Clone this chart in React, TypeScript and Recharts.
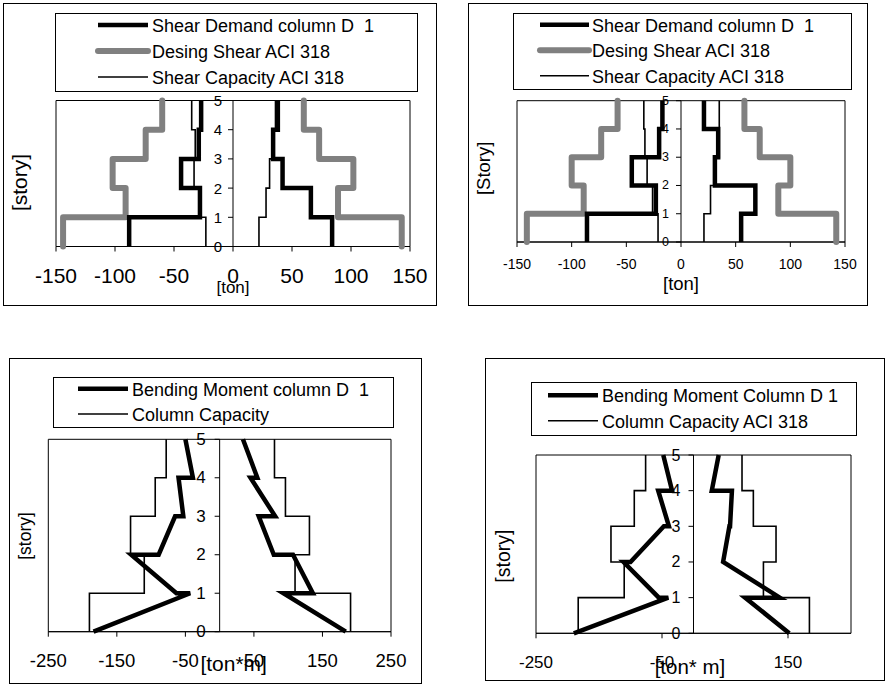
import React from 'react';
import {
  Label,
  ReferenceArea,
  ReferenceDot,
  ReferenceLine,
  Scatter,
  ScatterChart,
  XAxis,
  YAxis,
} from 'recharts';

// Story levels (0 = base, 5 = roof)
const STORIES = [0, 1, 2, 3, 4, 5];

// Top-left: shear per storey [ton], one value per storey 0-1 .. 4-5
const tlDemandNeg = [-88, -28, -44, -29, -27];
const tlDemandPos = [84, 66, 42, 34, 38];
const tlDesignNeg = [-144, -91, -102, -74, -60];
const tlDesignPos = [143, 89, 102, 73, 60];
const tlCapNeg = [-23, -28, -33, -32, -35];
const tlCapPos = [22, 28, 31, 34, 36];

// Top-right: shear per storey [ton]
const trDemandNeg = [-86, -23, -45, -20, -17];
const trDemandPos = [55, 68, 31, 34, 21];
const trDesignNeg = [-141, -89, -100, -73, -58];
const trDesignPos = [142, 89, 100, 72, 58];
const trCapNeg = [-21, -26, -31, -33, -34];
const trCapPos = [21, 27, 30, 35, 35];

// Bottom-left: moment at bottom / top of each storey column [ton*m]
const blMomentNegBot = [-184, -63, -89, -53, -39];
const blMomentNegTop = [-43, -129, -65, -60, -50];
const blMomentPosBot = [184, 136, 79, 81, 55];
const blMomentPosTop = [93, 107, 57, 45, 34];
const blCapNeg = [-190, -110, -130, -94, -78];
const blCapPos = [191, 110, 131, 96, 80];

// Bottom-right: moment at bottom / top of each storey column [ton*m]
const brMomentNegBot = [-190, -55, -100, -39, -34];
const brMomentNegTop = [-40, -111, -47, -56, -48];
const brMomentPosBot = [152, 137, 47, 58, 29];
const brMomentPosTop = [82, 47, 57, 61, 40];
const brCapNeg = [-183, -110, -131, -94, -76];
const brCapPos = [184, 111, 131, 95, 77];

// Axis tick labels
const shearTicks = [-150, -100, -50, 0, 50, 100, 150];
const blMomentTicks = [-250, -150, -50, 50, 150, 250];
const brMomentTicks = [-250, -50, 150];

// Legend labels
const shearLegend = ['Shear Demand column D  1', 'Desing Shear ACI 318', 'Shear Capacity ACI 318'];
const blLegend = ['Bending Moment column D  1', 'Column Capacity'];
const brLegend = ['Bending Moment Column D 1', 'Column Capacity ACI 318'];

type Pt = { x: number; y: number };
type LineStyle = {
  stroke: string;
  strokeWidth: number;
  strokeLinejoin?: 'round' | 'miter';
  strokeLinecap?: 'round' | 'butt';
};

const THICK: LineStyle = { stroke: '#000', strokeWidth: 4.5 };
const GRAY: LineStyle = { stroke: '#808080', strokeWidth: 6, strokeLinejoin: 'round', strokeLinecap: 'round' };
const THIN: LineStyle = { stroke: '#000', strokeWidth: 1.6 };

// constant value over each storey -> stair outline
function steps(vals: number[]): Pt[] {
  const pts: Pt[] = [];
  vals.forEach((v, i) => {
    pts.push({ x: v, y: STORIES[i] }, { x: v, y: STORIES[i + 1] });
  });
  return pts;
}

// moment varies linearly along each storey column
function columns(bot: number[], top: number[]): Pt[] {
  const pts: Pt[] = [];
  bot.forEach((b, i) => {
    pts.push({ x: b, y: STORIES[i] }, { x: top[i], y: STORIES[i + 1] });
  });
  return pts;
}

type Series = { key: string; pts: Pt[]; style: LineStyle };

type PanelCfg = {
  box: { left: number; top: number; width: number; height: number };
  margin: { top: number; right: number; bottom: number; left: number };
  yAxisWidth: number;
  xAxisHeight: number;
  domain: [number, number];
  xTicks: number[];
  xTickFont: number;
  xTickMargin: number;
  yTickFont: number;
  yTickOffset: number;
  xTitle: string;
  xTitleFont: number;
  xTitleDx: number;
  yTitle: string;
  yTitleFont: number;
  yTitleDx: number;
  yTitleDy: number;
  series: Series[];
  legend: {
    left: number;
    top: number;
    width: number;
    height: number;
    x1: number;
    x2: number;
    textX: number;
    baselines: number[];
    labels: string[];
    styles: LineStyle[];
  };
};

const panels: PanelCfg[] = [
  {
    box: { left: 3, top: 3, width: 434, height: 303 },
    margin: { top: 97.5, right: 27, bottom: 13, left: 0 },
    yAxisWidth: 53,
    xAxisHeight: 46.5,
    domain: [-150, 150],
    xTicks: shearTicks,
    xTickFont: 21,
    xTickMargin: 17,
    yTickFont: 15,
    yTickOffset: 11,
    xTitle: '[ton]',
    xTitleFont: 17,
    xTitleDx: 0,
    yTitle: '[story]',
    yTitleFont: 21,
    yTitleDx: -10.5,
    yTitleDy: 9,
    series: [
      { key: 'desN', pts: steps(tlDesignNeg), style: GRAY },
      { key: 'desP', pts: steps(tlDesignPos), style: GRAY },
      { key: 'demN', pts: steps(tlDemandNeg), style: THICK },
      { key: 'demP', pts: steps(tlDemandPos), style: THICK },
      { key: 'capN', pts: steps(tlCapNeg), style: THIN },
      { key: 'capP', pts: steps(tlCapPos), style: THIN },
    ],
    legend: {
      left: 55, top: 13, width: 363, height: 79,
      x1: 43, x2: 93, textX: 97, baselines: [19, 45, 71],
      labels: shearLegend, styles: [THICK, GRAY, THIN],
    },
  },
  {
    box: { left: 468, top: 3, width: 400, height: 303 },
    margin: { top: 97.7, right: 23, bottom: 16.5, left: 0 },
    yAxisWidth: 49,
    xAxisHeight: 47.5,
    domain: [-150, 150],
    xTicks: shearTicks,
    xTickFont: 14,
    xTickMargin: 12.4,
    yTickFont: 12.5,
    yTickOffset: 12,
    xTitle: '[ton]',
    xTitleFont: 18.5,
    xTitleDx: 0,
    yTitle: '[Story]',
    yTitleFont: 18.5,
    yTitleDx: -8.5,
    yTitleDy: -3,
    series: [
      { key: 'desN', pts: steps(trDesignNeg), style: GRAY },
      { key: 'desP', pts: steps(trDesignPos), style: GRAY },
      { key: 'demN', pts: steps(trDemandNeg), style: THICK },
      { key: 'demP', pts: steps(trDemandPos), style: THICK },
      { key: 'capN', pts: steps(trCapNeg), style: THIN },
      { key: 'capP', pts: steps(trCapPos), style: THIN },
    ],
    legend: {
      left: 513, top: 13, width: 339, height: 77,
      x1: 27, x2: 76, textX: 79, baselines: [18.7, 44.3, 69.7],
      labels: shearLegend, styles: [THICK, GRAY, THIN],
    },
  },
  {
    box: { left: 9, top: 358, width: 413, height: 326 },
    margin: { top: 81.3, right: 31, bottom: 13.3, left: 0 },
    yAxisWidth: 39.3,
    xAxisHeight: 39,
    domain: [-250, 250],
    xTicks: blMomentTicks,
    xTickFont: 18.5,
    xTickMargin: 17,
    yTickFont: 17,
    yTickOffset: 14,
    xTitle: '[ton*m]',
    xTitleFont: 21,
    xTitleDx: 14,
    yTitle: '[story]',
    yTitleFont: 17.5,
    yTitleDx: -3.6,
    yTitleDy: 0.5,
    series: [
      { key: 'capN', pts: steps(blCapNeg), style: THIN },
      { key: 'capP', pts: steps(blCapPos), style: THIN },
      { key: 'momN', pts: columns(blMomentNegBot, blMomentNegTop), style: THICK },
      { key: 'momP', pts: columns(blMomentPosBot, blMomentPosTop), style: THICK },
    ],
    legend: {
      left: 53, top: 377, width: 341, height: 51,
      x1: 25, x2: 75, textX: 79, baselines: [18.7, 44],
      labels: blLegend, styles: [THICK, THIN],
    },
  },
  {
    box: { left: 485, top: 358, width: 400, height: 323 },
    margin: { top: 97, right: 34, bottom: 7, left: 0 },
    yAxisWidth: 51,
    xAxisHeight: 40.7,
    domain: [-250, 250],
    xTicks: brMomentTicks,
    xTickFont: 17,
    xTickMargin: 17.9,
    yTickFont: 16,
    yTickOffset: 13,
    xTitle: '[ton* m]',
    xTitleFont: 20.5,
    xTitleDx: -3.5,
    yTitle: '[story]',
    yTitleFont: 19.5,
    yTitleDx: -7,
    yTitleDy: 12,
    series: [
      { key: 'capN', pts: steps(brCapNeg), style: THIN },
      { key: 'capP', pts: steps(brCapPos), style: THIN },
      { key: 'momN', pts: columns(brMomentNegBot, brMomentNegTop), style: THICK },
      { key: 'momP', pts: columns(brMomentPosBot, brMomentPosTop), style: THICK },
    ],
    legend: {
      left: 531, top: 382, width: 326, height: 54,
      x1: 17, x2: 67, textX: 71, baselines: [20.3, 45.7],
      labels: brLegend, styles: [THICK, THIN],
    },
  },
];

const NoMarker = () => <g />;

function LegendBox({ lg }: { lg: PanelCfg['legend'] }) {
  return (
    <svg
      width={lg.width}
      height={lg.height}
      style={{ position: 'absolute', left: lg.left, top: lg.top, overflow: 'visible' }}
    >
      <rect x={0.5} y={0.5} width={lg.width - 1} height={lg.height - 1} fill="#fff" stroke="#000" />
      {lg.labels.map((label, i) => (
        <g key={label}>
          <line
            x1={lg.x1}
            x2={lg.x2}
            y1={lg.baselines[i] - 7}
            y2={lg.baselines[i] - 7}
            {...lg.styles[i]}
          />
          <text x={lg.textX} y={lg.baselines[i]} fontSize={18} fill="#000" style={{ whiteSpace: 'pre' }}>
            {label}
          </text>
        </g>
      ))}
    </svg>
  );
}

function Panel({ cfg }: { cfg: PanelCfg }) {
  const { box, margin, domain } = cfg;
  const plotW = box.width - margin.left - margin.right - cfg.yAxisWidth;
  // 5px tick marks on the zero axis, expressed in data units
  const tickLen = (5 * (domain[1] - domain[0])) / plotW;

  const xTitle = (props: any) => {
    const vb = props.viewBox;
    return (
      <text
        x={vb.x + vb.width / 2 + cfg.xTitleDx}
        y={vb.y + vb.height}
        textAnchor="middle"
        fontSize={cfg.xTitleFont}
        fill="#000"
      >
        {cfg.xTitle}
      </text>
    );
  };

  const yTitle = (props: any) => {
    const vb = props.viewBox;
    const cx = vb.x + vb.width / 2 + cfg.yTitleDx;
    const cy = vb.y + vb.height / 2 + cfg.yTitleDy;
    return (
      <text
        x={cx}
        y={cy}
        transform={`rotate(-90 ${cx} ${cy})`}
        textAnchor="middle"
        dominantBaseline="central"
        fontSize={cfg.yTitleFont}
        fill="#000"
      >
        {cfg.yTitle}
      </text>
    );
  };

  // story number sitting just left of the zero axis
  const storyLabel = (s: number) => (props: any) => {
    const vb = props.viewBox;
    return (
      <text
        x={vb.x - cfg.yTickOffset}
        y={vb.y + vb.height / 2}
        textAnchor="end"
        dominantBaseline="central"
        fontSize={cfg.yTickFont}
        fill="#000"
      >
        {s}
      </text>
    );
  };

  return (
    <>
      <div
        style={{
          position: 'absolute',
          left: box.left,
          top: box.top,
          width: box.width,
          height: box.height,
          border: '1px solid #000',
          boxSizing: 'border-box',
        }}
      />
      <div style={{ position: 'absolute', left: box.left, top: box.top }}>
        <ScatterChart width={box.width} height={box.height} margin={margin}>
          <XAxis
            type="number"
            dataKey="x"
            domain={domain}
            ticks={cfg.xTicks}
            interval={0}
            height={cfg.xAxisHeight}
            stroke="#000"
            tickSize={5}
            tickMargin={cfg.xTickMargin}
            tick={{ fill: '#000', fontSize: cfg.xTickFont }}
          >
            <Label content={xTitle} />
          </XAxis>
          <YAxis
            type="number"
            dataKey="y"
            domain={[0, 5]}
            width={cfg.yAxisWidth}
            tick={false}
            tickLine={false}
            axisLine={false}
          >
            <Label content={yTitle} />
          </YAxis>
          <ReferenceArea
            x1={domain[0]}
            x2={domain[1]}
            y1={0}
            y2={5}
            fill="none"
            stroke="#000"
            strokeWidth={1}
          />
          <ReferenceLine x={0} stroke="#000" strokeWidth={1} />
          {STORIES.map((s) => (
            <ReferenceLine
              key={`t${s}`}
              segment={[
                { x: -tickLen, y: s },
                { x: 0, y: s },
              ]}
              stroke="#000"
              strokeWidth={1}
            />
          ))}
          {STORIES.map((s) => (
            <ReferenceDot
              key={`l${s}`}
              x={0}
              y={s}
              r={0}
              fill="none"
              stroke="none"
              label={<Label content={storyLabel(s)} />}
            />
          ))}
          {cfg.series.map((s) => (
            <Scatter
              key={s.key}
              data={s.pts}
              line={{ ...s.style }}
              lineType="joint"
              shape={NoMarker}
              legendType="none"
              isAnimationActive={false}
            />
          ))}
        </ScatterChart>
      </div>
      <LegendBox lg={cfg.legend} />
    </>
  );
}

export default function App() {
  return (
    <div
      style={{
        position: 'absolute',
        left: 0,
        top: 0,
        width: 886,
        height: 691,
        background: '#fff',
        fontFamily: '"Liberation Sans", Arial, sans-serif',
      }}
    >
      {panels.map((p, i) => (
        <Panel key={i} cfg={p} />
      ))}
    </div>
  );
}
